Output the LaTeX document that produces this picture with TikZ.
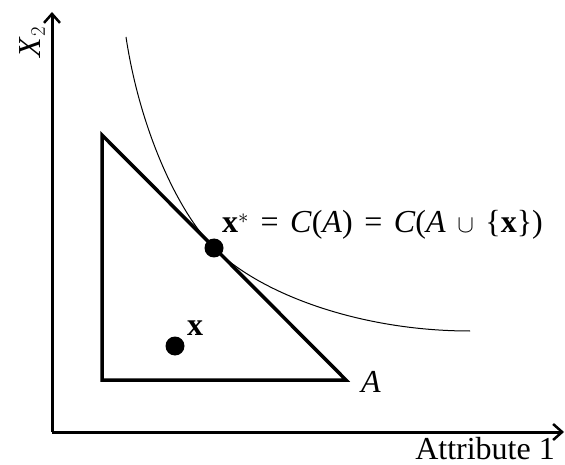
\documentclass[tikz,border=0pt]{standalone}
\usepackage{fontspec}
\setmainfont{Liberation Serif}
\usetikzlibrary{arrows.meta}
\newcommand{\ivar}[1]{\textit{#1}\/}
\newcommand{\opsp}{\hspace{0.36em}}
\begin{document}
\begin{tikzpicture}[x=1pt,y=-1pt,
  axis/.style={line width=3pt,-{Straight Barb[length=9pt,width=16pt,line width=2.5pt]}},
  tri/.style={line width=3.5pt,line join=miter},
  indiff/.style={line width=1pt},
  dot/.style={circle,fill=black,inner sep=0pt,minimum size=19pt},
  lbl/.style={font=\fontsize{32}{38}\selectfont,inner sep=0pt}]
\useasboundingbox (0,0) rectangle (565,465);
\coordinate (O) at (52,432);
\coordinate (ytip) at (52,12);
\coordinate (xtip) at (564,432);
\draw[axis] (O) -- (ytip);
\draw[axis] (O) -- (xtip);
\coordinate (T1) at (102,135);
\coordinate (T2) at (102,380);
\coordinate (T3) at (346,380);
\draw[tri] (T3) -- (T2) -- (T1) -- cycle;
\coordinate (c0) at (126,37);
\coordinate (c1) at (214,248);
\coordinate (c2) at (470,331);
\draw[indiff] (c0) .. controls (140,130) and (178,212) .. (c1)
  .. controls (260,294) and (360,331) .. (c2);
\node[dot] (xs) at (c1) {};
\node[dot] (xp) at (175,346) {};
\node[lbl,anchor=base west] (xslbl) at (222,233) {\textbf{x}$^{*}$\opsp=\opsp\ivar{C}(\ivar{A})\opsp=\opsp\ivar{C}(\ivar{A}\opsp$\cup$\opsp\{\textbf{x}\})};
\node[lbl,anchor=base west] (xlbl) at (187,335) {\textbf{x}};
\node[lbl,anchor=base west] (Albl) at (361,392) {\ivar{A}};
\node[lbl,anchor=base east] (attr) at (555,459) {Attribute 1};
\node[lbl,rotate=90,anchor=base] (x2) at (40,42) {\ivar{X}$_2$};
\end{tikzpicture}
\end{document}
